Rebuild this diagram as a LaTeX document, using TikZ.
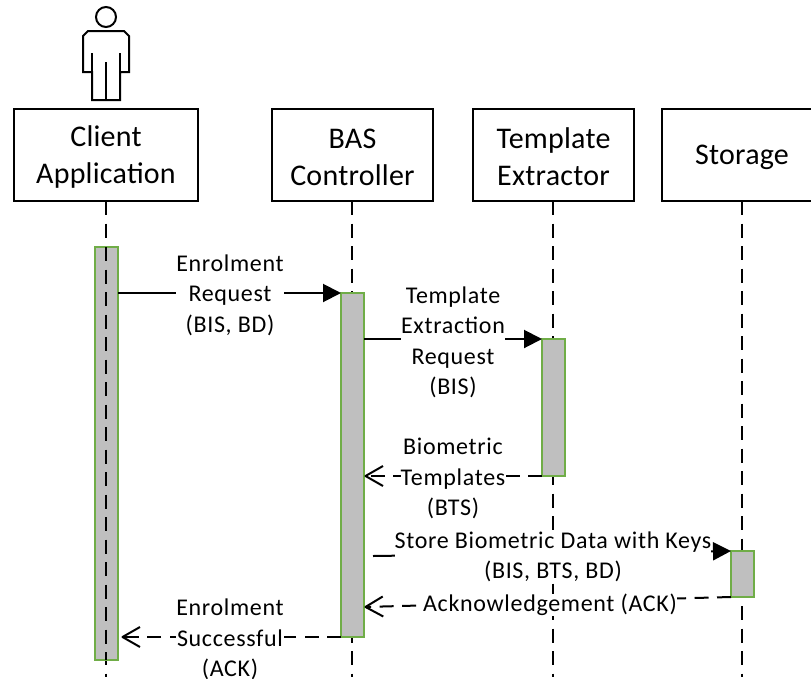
\documentclass[tikz,border=0pt]{standalone}
\usepackage{fontspec}
\setmainfont{Carlito}
\newfontfamily\boxfont[LetterSpace=0.8]{Carlito}
\newfontfamily\labelfont[LetterSpace=2.8]{Carlito}
\usetikzlibrary{arrows.meta}
\newcommand{\actorstrut}{\rule{0pt}{25pt}}
\pgfdeclarearrow{
  name=OpenV,
  setup code={
    \pgfarrowssettipend{0pt}
    \pgfarrowssetlineend{-2pt}
    \pgfarrowssetvisualbackend{-18pt}
    \pgfarrowssetbackend{-18pt}
  },
  drawing code={
    \pgfsetdash{}{0pt}
    \pgfsetlinewidth{2pt}
    \pgfsetroundjoin
    \pgfpathmoveto{\pgfqpoint{-19pt}{10pt}}
    \pgfpathlineto{\pgfqpoint{-1.5pt}{0pt}}
    \pgfpathlineto{\pgfqpoint{-19pt}{-10pt}}
    \pgfusepathqstroke
  }
}
\tikzset{
  x=1pt,y=-1pt,
  every path/.style={line width=2pt},
  actor/.style={draw,fill=white,minimum height=92pt,align=center,inner sep=0pt,outer sep=0pt,anchor=north west,font=\boxfont\fontsize{30}{37}\selectfont},
  activation/.style={draw=actgreen,fill=actgray,minimum width=23pt,inner sep=0pt,outer sep=0pt,anchor=north west},
  lifeline/.style={dash pattern=on 14pt off 8.5pt},
  label/.style={fill=white,align=center,inner sep=0pt,font=\labelfont\fontsize{24}{30.5}\selectfont},
  sync/.style={-{Triangle[length=18pt,width=18pt]}},
  reply/.style={dash pattern=on 14pt off 8.5pt,-{OpenV}},
}
\definecolor{actgreen}{HTML}{70AD47}
\definecolor{actgray}{HTML}{BFBFBF}
\begin{document}
\begin{tikzpicture}
\useasboundingbox (0,0) rectangle (811,678);
% actor figure
\draw (106,17) circle (10);
\draw (88,31) -- (124,31) -- (129,36) -- (129,72) -- (120,72) -- (120,100) -- (92,100) -- (92,72) -- (83,72) -- (83,36) -- cycle;
\draw (92,53) -- (92,100) (120,53) -- (120,100) (106,62) -- (106,100);
% actor boxes
\node[actor,minimum width=184pt] (client) at (14,109) {\actorstrut Client\\Application};
\node[actor,minimum width=161pt] (bas) at (272,109) {\actorstrut BAS\\Controller};
\node[actor,minimum width=161pt] (extract) at (473,109) {\actorstrut Template\\Extractor};
\node[actor,minimum width=160pt] (store) at (662,109) {\actorstrut Storage};
% lifeline ends
\coordinate (clientEnd) at (106,677);
\coordinate (basEnd) at (352,677);
\coordinate (extractEnd) at (553,677);
\coordinate (storeEnd) at (742,677);
\draw[lifeline] (106,201) -- (clientEnd);
\draw[lifeline] (352,201) -- (basEnd);
\draw[lifeline] (553,201) -- (extractEnd);
\draw[lifeline] (742,201) -- (storeEnd);
% activations
\node[activation,minimum height=413pt] (actC) at (95,247) {};
\node[activation,minimum height=344pt] (actB) at (341,293) {};
\node[activation,minimum height=137pt] (actT) at (542,339) {};
\node[activation,minimum height=46pt] (actS) at (731,551) {};
\draw[lifeline] (106,247) -- (106,660);
% messages
\coordinate (storeStart) at (373,556);
\coordinate (ackEnd) at (364,607);
\coordinate (succEnd) at (121,637);
\draw[sync] (actC.east |- actB.north) -- (actB.north west);
\draw[sync] (actB.east |- actT.north) -- (actT.north west);
\draw[reply] (actT.south west) -- (actB.east |- actT.south);
\draw[sync] (storeStart) -- (actS.north west);
\draw[reply] (actS.south west) -- (ackEnd);
\draw[reply] (actB.south west) -- (succEnd);
% labels
\node[label] (l1) at (230,295) {Enrolment\\Request\\(BIS, BD)};
\node[label] (l2) at (453,342.5) {Template\\Extraction\\Request\\(BIS)};
\node[label] (l3) at (453,478.5) {Biometric\\Templates\\(BTS)};
\node[label] (l4) at (553,557) {Store Biometric Data with Keys\\(BIS, BTS, BD)};
\node[label] (l5) at (550,605) {Acknowledgement (ACK)};
\node[label] (l6) at (230,639.5) {Enrolment\\Successful\\(ACK)};
\end{tikzpicture}
\end{document}
